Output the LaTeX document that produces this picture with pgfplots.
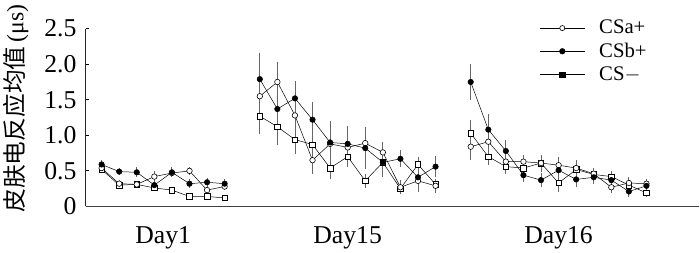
\documentclass[border=0pt]{standalone}
\usepackage{pgfplots}
\usepackage{pgfplotstable}
\pgfplotsset{compat=1.18}
\usepackage{fontspec}
\setmainfont{Liberation Serif}
\newfontfamily\cjk{Noto Sans CJK SC}

% Day1: x=0..7, Day15: x=9..19, Day16: x=21..31
\pgfplotstableread{
x y e
0 0.54 0.06
1 0.32 0.05
2 0.31 0.05
3 0.42 0.08
4 0.47 0.06
5 0.50 0.06
6 0.23 0.05
7 0.28 0.05
}\aone
\pgfplotstableread{
x y e
0 0.59 0.06
1 0.49 0.05
2 0.48 0.07
3 0.30 0.05
4 0.48 0.07
5 0.32 0.06
6 0.34 0.06
7 0.32 0.06
}\bone
\pgfplotstableread{
x y e
0 0.52 0.04
1 0.30 0.04
2 0.31 0.04
3 0.26 0.04
4 0.23 0.03
5 0.14 0.03
6 0.14 0.03
7 0.12 0.03
}\cone
\pgfplotstableread{
x y e
9 1.55 0.30
10 1.75 0.28
11 1.28 0.35
12 0.65 0.20
13 0.88 0.20
14 0.83 0.20
15 0.89 0.20
16 0.76 0.15
17 0.27 0.10
18 0.36 0.15
19 0.29 0.10
}\afif
\pgfplotstableread{
x y e
9 1.79 0.37
10 1.37 0.30
11 1.52 0.25
12 1.22 0.25
13 0.90 0.30
14 0.88 0.25
15 0.82 0.30
16 0.62 0.20
17 0.67 0.12
18 0.41 0.12
19 0.56 0.15
}\bfif
\pgfplotstableread{
x y e
9 1.27 0.25
10 1.12 0.25
11 0.94 0.20
12 0.87 0.20
13 0.54 0.15
14 0.70 0.15
15 0.36 0.10
16 0.62 0.20
17 0.25 0.08
18 0.59 0.10
19 0.31 0.08
}\cfif
\pgfplotstableread{
x y e
21 0.84 0.18
22 0.91 0.18
23 0.63 0.12
24 0.63 0.10
25 0.61 0.12
26 0.58 0.12
27 0.54 0.12
28 0.46 0.08
29 0.27 0.08
30 0.33 0.08
31 0.32 0.06
}\asix
\pgfplotstableread{
x y e
21 1.75 0.25
22 1.08 0.22
23 0.78 0.15
24 0.44 0.10
25 0.37 0.10
26 0.51 0.12
27 0.38 0.10
28 0.41 0.10
29 0.37 0.10
30 0.21 0.08
31 0.29 0.08
}\bsix
\pgfplotstableread{
x y e
21 1.03 0.18
22 0.70 0.12
23 0.56 0.10
24 0.54 0.10
25 0.61 0.10
26 0.33 0.12
27 0.52 0.10
28 0.45 0.08
29 0.42 0.08
30 0.30 0.06
31 0.19 0.06
}\csix

\pgfplotsset{
  ser/.style={black, line width=0.5bp, mark size=2.8bp, forget plot,
    error bars/y dir=both, error bars/y explicit, error bars/error mark=none,
    error bars/error bar style={line width=0.9bp, black!60}},
  sa/.style={ser, mark=*, mark options={fill=white, line width=0.6bp}},
  sb/.style={ser, mark=*, mark options={fill=black}},
  sc/.style={ser, mark=square*, mark options={fill=white, line width=0.6bp}},
}

\begin{document}
\begin{tikzpicture}
\begin{axis}[name=ax, scale only axis, width=621bp, height=180bp,
  xmin=-0.9, xmax=34, ymin=0, ymax=2.5,
  axis x line*=bottom, axis y line*=left,
  x axis line style={line width=1.6bp, black!75},
  y axis line style={line width=1bp, black!85},
  xtick={3.5,14,26}, xticklabels={Day1,Day15,Day16},
  x tick style={draw=none},
  xticklabel style={yshift=-17bp},
  ytick={0,0.5,1,1.5,2,2.5}, yticklabels={0,0.5,1.0,1.5,2.0,2.5},
  y tick style={black, line width=0.8bp},
  yticklabel style={xshift=-6bp},
  tick align=inside, major tick length=3bp,
  tick label style={font=\fontsize{26bp}{28bp}\selectfont},
  ylabel={{\cjk 皮肤电反应均值}\,(μs)},
  ylabel style={at={(axis description cs:-0.114,0.55)}, anchor=center,
    font=\fontsize{24bp}{26bp}\selectfont},
  clip=false,
  legend style={at={(axis description cs:0.739,1.06)}, anchor=north west,
    draw=none, fill=none, font=\fontsize{21bp}{23bp}\selectfont,
    row sep=3.5bp, inner sep=0pt,
    nodes={inner sep=0pt, text height=16bp, text depth=4bp}},
  legend cell align=left,
  legend image code/.code={\draw[mark repeat=2,mark phase=2,#1]
    plot coordinates {(0bp,0bp) (23bp,0bp) (46bp,0bp)};},
]
\addlegendimage{black, line width=0.6bp, mark=*, mark size=2.6bp, mark options={fill=white}}
\addlegendentry{\hspace{14bp}CSa+}
\addlegendimage{black, line width=0.6bp, mark=*, mark size=2.8bp, mark options={fill=black}}
\addlegendentry{\hspace{14bp}CSb+}
\addlegendimage{black, line width=0.6bp, mark=square*, mark size=2.6bp, mark options={fill=black}}
\addlegendentry{\hspace{14bp}CS$-$}

\addplot[sc] table[x=x, y=y, y error=e] {\cone};
\addplot[sa] table[x=x, y=y, y error=e] {\aone};
\addplot[sb] table[x=x, y=y, y error=e] {\bone};
\addplot[sc] table[x=x, y=y, y error=e] {\cfif};
\addplot[sa] table[x=x, y=y, y error=e] {\afif};
\addplot[sb] table[x=x, y=y, y error=e] {\bfif};
\addplot[sc] table[x=x, y=y, y error=e] {\csix};
\addplot[sa] table[x=x, y=y, y error=e] {\asix};
\addplot[sb] table[x=x, y=y, y error=e] {\bsix};
\end{axis}
\path[use as bounding box] ([xshift=-79bp,yshift=-39bp]ax.south west) rectangle ++(700bp,248bp);
\end{tikzpicture}
\end{document}
